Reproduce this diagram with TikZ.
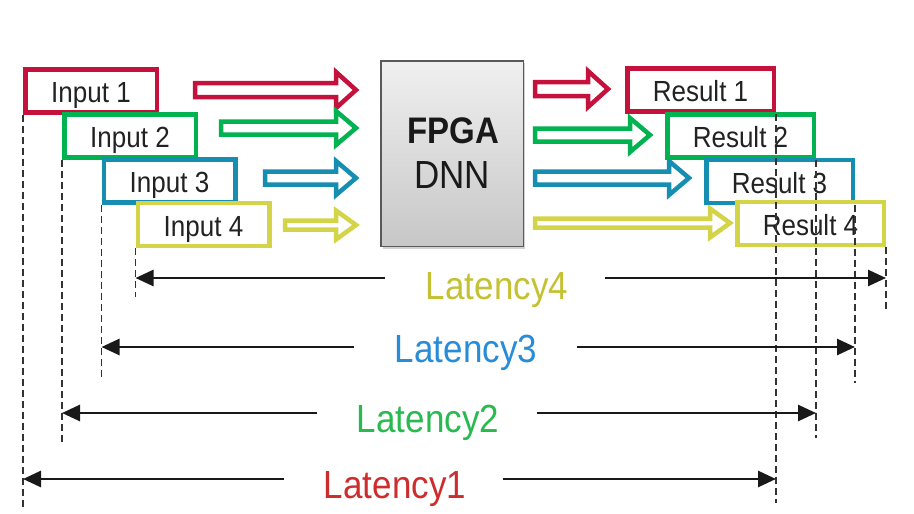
\documentclass[tikz,border=0pt]{standalone}
\usepackage{fontspec}
\setmainfont{Liberation Sans}
\usetikzlibrary{arrows.meta,shadows}

\definecolor{cred}{RGB}{196,18,60}
\definecolor{cgreen}{RGB}{0,178,80}
\definecolor{cblue}{RGB}{22,142,178}
\definecolor{cyellow}{RGB}{212,212,72}
\definecolor{lred}{RGB}{205,45,45}
\definecolor{lgreen}{RGB}{42,185,80}
\definecolor{lblue}{RGB}{40,140,215}
\definecolor{lyellow}{RGB}{196,194,52}
\definecolor{boxtext}{RGB}{34,34,34}

% slightly tall lettering
\newcommand\tallText[1]{\scalebox{1}[1.12]{#1}}

% hollow block arrow: x-start, x-tip, y, colour, shaft half-height, head half-height
\newcommand\hollowarrow[6]{%
  \draw[line width=4.5pt, draw=#4, fill=white, line join=miter]
    (#1,#3-#5) -- (#2-20,#3-#5) -- (#2-20,#3-#6) -- (#2,#3)
    -- (#2-20,#3+#6) -- (#2-20,#3+#5) -- (#1,#3+#5) -- cycle;}

\tikzset{
  stagebox/.style={draw=#1, line width=4.5pt, fill=white, inner sep=0pt,
    minimum height=43pt, text height=23pt, text depth=0pt, text=boxtext,
    font=\fontsize{26}{26}\selectfont},
  inbox/.style={stagebox=#1, minimum width=131.5pt},
  outbox/.style={stagebox=#1, minimum width=146.5pt},
  guide/.style={draw=black!80, line width=1.9pt, dash pattern=on 7pt off 4pt},
  latarrow/.style={draw=black!90, line width=2.7pt,
    -{Triangle[length=18pt,width=16pt]}},
  latlabel/.style={anchor=base, inner sep=0pt, font=\fontsize{35}{35}\selectfont}
}

\begin{document}
\begin{tikzpicture}[x=1pt,y=-1pt]
\fill[white] (0,0) rectangle (914,514);
\useasboundingbox (0,0) rectangle (914,514);

% arrows into the accelerator
\hollowarrow{195}{356}{90}{cred}{7}{18}
\hollowarrow{221}{356}{128}{cgreen}{6.5}{17}
\hollowarrow{265}{356}{178}{cblue}{6.5}{17}
\hollowarrow{285}{356}{225}{cyellow}{4.5}{14.5}

% arrows out of the accelerator
\hollowarrow{535}{608}{89}{cred}{7}{18}
\hollowarrow{535}{650}{135}{cgreen}{6.5}{17}
\hollowarrow{535}{689}{178}{cblue}{6.5}{17}
\hollowarrow{535}{730}{223}{cyellow}{4.5}{14.5}

% input frames
\node[inbox=cred]    (i1) at (91,91)  {\tallText{Input 1}};
\node[inbox=cgreen]  (i2) at (130,136) {\tallText{Input 2}};
\node[inbox=cblue]   (i3) at (169.5,181) {\tallText{Input 3}};
\node[inbox=cyellow] (i4) at (203.5,224.5) {\tallText{Input 4}};

% result frames
\node[outbox=cred]    (r1) at (700.5,90)  {\tallText{Result 1}};
\node[outbox=cgreen]  (r2) at (740.5,136) {\tallText{Result 2}};
\node[outbox=cblue]   (r3) at (779.5,181.5) {\tallText{Result 3}};
\node[outbox=cyellow] (r4) at (810.5,223.5) {\tallText{Result 4}};

% accelerator block
\node[draw=black!65, line width=1.5pt, top color=black!6, bottom color=black!22,
      minimum width=142.5pt, minimum height=185.5pt, inner sep=0pt,
      drop shadow={shadow xshift=2pt, shadow yshift=-2.5pt, opacity=0.35}]
      (fpga) at (452,153.5) {};
\node[anchor=base, inner sep=0pt, font=\fontsize{33}{33}\selectfont\bfseries,
      text=black!90] (fpganame) at (453,143) {\tallText{FPGA}};
\node[anchor=base, inner sep=0pt, font=\fontsize{35}{35}\selectfont,
      text=black!90] (dnnname) at (452,188) {\tallText{DNN}};

% timing guides
\draw[guide] (i1.south west) -- (i1.south west |- 0,507);
\draw[guide] (i2.south west) -- (i2.south west |- 0,443);
\draw[guide] (i3.south west) -- (i3.south west |- 0,377);
\draw[guide] (i4.south west) -- (i4.south west |- 0,297);
\draw[guide] (r1.south east) -- (r1.south east |- 0,503);
\draw[guide] (r2.south east) -- (r2.south east |- 0,438);
\draw[guide] (r3.south east) -- (r3.south east |- 0,383);
\draw[guide] (r4.south east) -- (r4.south east |- 0,310);

% latency labels
\node[latlabel, text=lyellow] (lat4) at (497,299) {\tallText{Latency4}};
\node[latlabel, text=lblue]   (lat3) at (466,362) {\tallText{Latency3}};
\node[latlabel, text=lgreen]  (lat2) at (428,432) {\tallText{Latency2}};
\node[latlabel, text=lred]    (lat1) at (395,498) {\tallText{Latency1}};

% latency spans
\coordinate (a4) at (385,278); \coordinate (b4) at (605,278);
\coordinate (a3) at (354,347); \coordinate (b3) at (577,347);
\coordinate (a2) at (317,413); \coordinate (b2) at (537,413);
\coordinate (a1) at (284,479); \coordinate (b1) at (503,479);

\draw[latarrow] (a4) -- (i4.south west |- a4);
\draw[latarrow] (b4) -- (r4.south east |- b4);
\draw[latarrow] (a3) -- (i3.south west |- a3);
\draw[latarrow] (b3) -- (r3.south east |- b3);
\draw[latarrow] (a2) -- (i2.south west |- a2);
\draw[latarrow] (b2) -- (r2.south east |- b2);
\draw[latarrow] (a1) -- (i1.south west |- a1);
\draw[latarrow] (b1) -- (r1.south east |- b1);
\end{tikzpicture}
\end{document}
